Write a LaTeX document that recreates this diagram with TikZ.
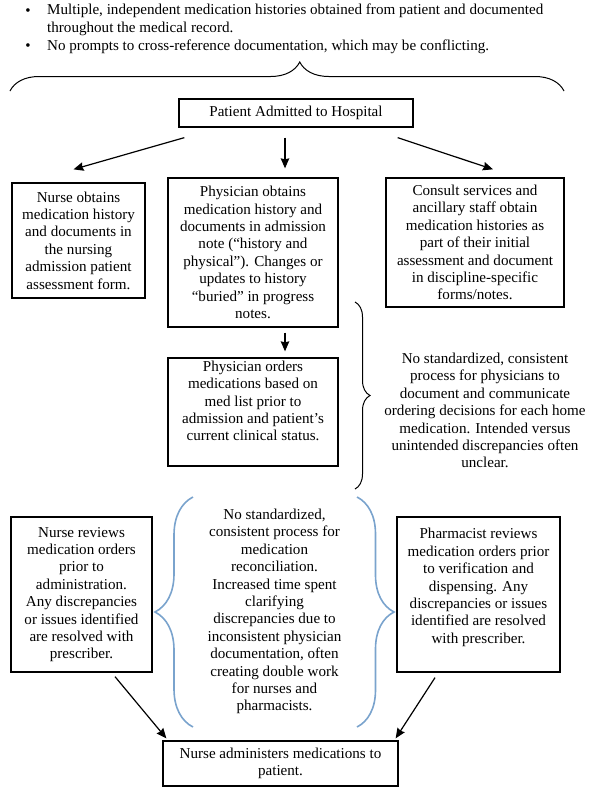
\documentclass[tikz,border=0pt]{standalone}
\usepackage{fontspec}
\setmainfont{Liberation Serif}
\usetikzlibrary{arrows.meta,decorations.pathreplacing}
\definecolor{braceblue}{RGB}{122,163,205}
\begin{document}
\begin{tikzpicture}[x=1pt,y=-1pt,font=\fontsize{15.1}{17.4}\selectfont,
		box/.style={draw, line width=1.3pt, align=center, inner sep=0pt},
		arr/.style={-{Stealth[length=10pt,width=8.5pt,inset=1pt]}, line width=1.2pt},
		curly/.style={decorate, line width=1pt}]
			\useasboundingbox (0,0) rectangle (601,803);
			% bullets on top
			\node (b1) at (28,12) {\textbullet};
			\node[anchor=west, align=left, inner sep=0pt] (t1) at (47,20) {Multiple, independent medication histories obtained from patient and documented\\throughout the medical record.};
			\node (b2) at (28,47) {\textbullet};
			\node[anchor=west, inner sep=0pt] (t2) at (47,47) {No prompts to cross-reference documentation, which may be conflicting.};
			\draw[curly, decoration={brace, amplitude=29pt, aspect=0.523}] (10,91) -- (564,91);
			% boxes
			\node[box, minimum width=234, minimum height=28] (patient) at (296,113) {Patient Admitted to Hospital};
			\node[box, minimum width=133, minimum height=115] (nursobt) at (78.5,240.5) {Nurse obtains\\medication history\\and documents in\\the nursing\\admission patient\\assessment form.};
			\node[box, minimum width=170, minimum height=149] (physobt) at (253,252.5) {Physician obtains\\medication history and\\documents in admission\\note (“history and\\physical”). Changes or\\updates to history\\“buried” in progress\\notes.};
			\node[box, minimum width=178, minimum height=129] (consult) at (475,242.5) {Consult services and\\ancillary staff obtain\\medication histories as\\part of their initial\\assessment and document\\in discipline-specific\\forms/notes.};
			\node[box, minimum width=170, minimum height=108] (physord) at (253,412) {Physician orders\\medications based on\\med list prior to\\admission and patient’s\\current clinical status.\\[5pt]};
			\node[box, minimum width=141, minimum height=155] (nursrev) at (81.5,594.5) {Nurse reviews\\medication orders\\prior to\\administration.\\Any discrepancies\\or issues identified\\are resolved with\\prescriber.};
			\node[box, minimum width=163, minimum height=155] (pharm) at (478.5,594.5) {Pharmacist reviews\\medication orders prior\\to verification and\\dispensing. Any\\discrepancies or issues\\identified are resolved\\with prescriber.\\ \mbox{}};
			\node[box, minimum width=235, minimum height=45] (final) at (280.5,763.5) {Nurse administers medications to\\patient.};
			% notes beside the braces
			\draw[curly, decoration={brace, amplitude=15pt}] (355,302) -- (355,489);
			\node[align=center, inner sep=0pt] (gap1) at (485,410.5) {No standardized, consistent\\process for physicians to\\document and communicate\\ordering decisions for each home\\medication. Intended versus\\unintended discrepancies often\\unclear.};
			\draw[curly, braceblue, line width=1.6pt, decoration={brace, amplitude=38pt}] (193,727) -- (193,497);
			\draw[curly, braceblue, line width=1.6pt, decoration={brace, amplitude=37pt}] (357,497) -- (357,727);
			\node[align=center, inner sep=0pt] (gap2) at (274.5,611.5) {No standardized,\\consistent process for\\medication\\reconciliation.\\Increased time spent\\clarifying\\discrepancies due to\\inconsistent physician\\documentation, often\\creating double work\\for nurses and\\pharmacists.};
			% arrows
			\draw[arr] ([shift={(6,10)}]patient.south west) -- ([shift={(-5,-13)}]nursobt.north);
			\draw[arr] ([shift={(-11,10)}]patient.south) -- ([shift={(32,-9)}]physobt.north);
			\draw[arr] ([shift={(-16,10)}]patient.south east) -- ([shift={(18,-8)}]consult.north);
			\draw[arr] ([shift={(32,5)}]physobt.south) -- ([shift={(32,-6)}]physord.north);
			\draw[arr] ([shift={(33.5,4)}]nursrev.south) -- ([shift={(4,-2)}]final.north west);
			\draw[arr] ([shift={(-43.5,5)}]pharm.south) -- ([shift={(-3,-2)}]final.north east);
		\end{tikzpicture}
\end{document}
